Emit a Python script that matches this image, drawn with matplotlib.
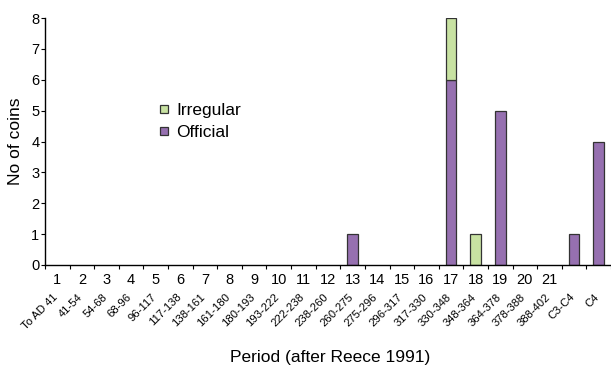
import matplotlib
matplotlib.use("Agg")
import matplotlib.pyplot as plt
from matplotlib.lines import Line2D
import matplotlib.transforms as mtrans
import numpy as np

plt.rcParams['font.family'] = ['Liberation Sans', 'DejaVu Sans']

period_numbers = ["1", "2", "3", "4", "5", "6", "7", "8", "9", "10", "11", "12",
                  "13", "14", "15", "16", "17", "18", "19", "20", "21", "", ""]
period_dates = ["To AD 41", "41-54", "54-68", "68-96", "96-117", "117-138", "138-161",
                "161-180", "180-193", "193-222", "222-238", "238-260", "260-275",
                "275-296", "296-317", "317-330", "330-348", "348-364", "364-378",
                "378-388", "388-402", "C3-C4", "C4"]
official = [0, 0, 0, 0, 0, 0, 0, 0, 0, 0, 0, 0, 1, 0, 0, 0, 6, 0, 5, 0, 0, 1, 4]
irregular = [0, 0, 0, 0, 0, 0, 0, 0, 0, 0, 0, 0, 0, 0, 0, 0, 2, 1, 0, 0, 0, 0, 0]

purple = "#9670b0"
green = "#c8e2a2"
edge = "#333333"

fig = plt.figure(figsize=(6.11, 3.70), dpi=100)
ax = fig.add_axes([0.0737, 0.284, 0.9263, 0.667])

x = np.arange(len(period_dates))
off = np.array(official)
irr = np.array(irregular)
w = 0.43
ax.bar(x[off > 0], off[off > 0], width=w, color=purple, edgecolor=edge, linewidth=0.9)
ax.bar(x[irr > 0], irr[irr > 0], width=w, bottom=off[irr > 0], color=green,
       edgecolor=edge, linewidth=0.9)

ax.set_xlim(-0.5, len(x) - 0.5)
ax.set_ylim(0, 8)
ax.set_yticks(range(0, 9))
ax.tick_params(axis='y', labelsize=10.5, length=3, width=0.8, pad=1, direction='out')

# boundary ticks (no labels), numbers as minor tick labels
ax.set_xticks(np.arange(-0.5, len(x) + 0.5, 1.0))
ax.set_xticklabels([])
ax.tick_params(axis='x', which='major', length=3, width=0.8, direction='out')
ax.set_xticks(x, minor=True)
ax.set_xticklabels(period_numbers, minor=True)
ax.tick_params(axis='x', which='minor', length=0, labelsize=10.5, pad=6)

for s in ['top', 'right']:
    ax.spines[s].set_visible(False)
for s in ['left', 'bottom']:
    ax.spines[s].set_linewidth(1.0)

trans = mtrans.blended_transform_factory(ax.transData, ax.transAxes) + \
    mtrans.ScaledTranslation(0, -27 / 100, fig.dpi_scale_trans)
for xi, lab in zip(x, period_dates):
    ax.text(xi + 0.1, 0, lab, transform=trans, rotation=45, ha='right', va='top',
            fontsize=8.1)

ax.set_ylabel("No of coins", fontsize=12.5, labelpad=6)
fig.text(0.54, 0.035, "Period (after Reece 1991)", ha='center', va='center', fontsize=12.5)

handles = [Line2D([], [], linestyle='none', marker='s', markersize=5.5,
                  markerfacecolor=green, markeredgecolor=edge, markeredgewidth=0.9,
                  label="Irregular"),
           Line2D([], [], linestyle='none', marker='s', markersize=5.5,
                  markerfacecolor=purple, markeredgecolor=edge, markeredgewidth=0.9,
                  label="Official")]
ax.legend(handles=handles, loc='upper left', bbox_to_anchor=(0.19, 0.685), frameon=False,
          fontsize=12.5, handlelength=0.5, handletextpad=0.45,
          labelspacing=0.4, borderaxespad=0)

fig.savefig("out.png", dpi=100)
